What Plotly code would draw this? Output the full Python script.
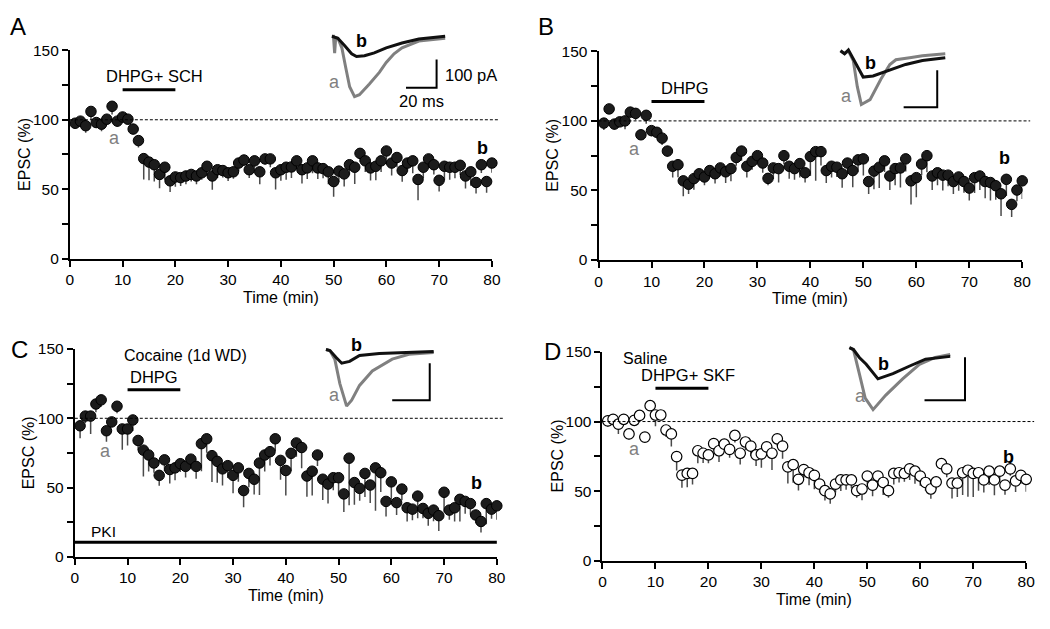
import plotly.graph_objects as go

W, H = 1050, 629

# ---------------- data ----------------
minutes = list(range(1, 81))

epsc_A = [97.5, 99, 95.7, 106, 98, 96.8, 100.4, 109.7, 99, 102, 100.4, 93.3, 85, 72, 69.5, 67.6, 60.6, 65.8, 56, 58.8,
          58.3, 59.5, 60.6, 59.5, 61.8, 66.5, 59.5, 64, 63.4, 61.8, 62.5, 68.8, 71, 64, 70.4, 62.5, 71.8, 71.8, 61.8, 64,
          65.8, 66, 70.4, 64, 65.3, 70.4, 65.3, 64.8, 62.5, 55.5, 63, 61, 67.6, 65.8, 75.8, 70.4, 65.3, 66.5, 70.4, 77.5,
          68.8, 72.8, 63.4, 68.8, 70.4, 57, 65.8, 71.8, 67.6, 56.4, 66.5, 65.8, 65.8, 67.2, 59.5, 62.5, 54.8, 67.6, 55.5, 68.8]
sem_A = [4, 3, 5, 6, 4, 5, 3, 6, 4, 3, 3, 4, 5, 15, 13, 12, 10, 9, 8, 7,
         6, 6, 5, 6, 5, 7, 10, 6, 5, 6, 5, 6, 4, 6, 5, 9, 4, 6, 12, 8,
         9, 8, 6, 10, 8, 9, 8, 7, 9, 11, 8, 9, 7, 12, 6, 8, 9, 10, 8, 6,
         9, 7, 8, 6, 9, 15, 8, 6, 7, 8, 10, 9, 8, 7, 9, 10, 8, 6, 8, 7]

epsc_B = [98.4, 108.6, 97.7, 99.3, 100, 106.3, 105.4, 90, 104, 93, 91.8, 87.6, 78.3, 67.4, 68.5, 56.9, 54.5, 58.5, 62, 59.7,
          64.3, 62, 66.2, 63.4, 65.7, 73.7, 78.3, 67.4, 70.9, 75, 69.7, 58.7, 66.2, 65.7, 75, 67.4, 65.7, 69.3, 62.7, 74.4,
          77.9, 77.9, 64.3, 67.4, 66.7, 62, 69.7, 64.3, 72, 72.7, 56.4, 63.9, 66.7, 71.3, 60.4, 65.7, 66.2, 72.7, 56.9, 59.2,
          69, 75, 60.4, 62.7, 61, 61, 56.4, 59.7, 56.4, 51.7, 59.2, 60.4, 56.4, 55.7, 53.4, 47.6, 58, 40, 50.3, 56.9]
sem_B = [5, 3, 4, 3, 6, 4, 5, 3, 6, 4, 3, 5, 4, 8, 9, 11, 7, 8, 5, 6,
         5, 7, 6, 8, 9, 6, 7, 8, 6, 5, 7, 5, 8, 10, 6, 9, 8, 10, 7, 14,
         21, 10, 9, 8, 7, 10, 8, 12, 9, 12, 9, 13, 15, 8, 10, 12, 14, 9, 17, 14,
         8, 12, 10, 9, 11, 8, 9, 10, 8, 9, 11, 10, 12, 13, 10, 16, 12, 9, 8, 13]

epsc_C = [94.6, 101.6, 101.6, 110.3, 113.3, 91, 97.4, 108.7, 92.3, 92.3, 98.8, 84, 77, 73.5, 67.7, 58.8, 70, 63, 64.2, 67.2,
          65.3, 70.5, 65.3, 81.7, 85.2, 73, 68.9, 63.5, 65.8, 58.8, 64.2, 47.8, 60.2, 56, 67.7, 73.5, 75.9, 85.2, 69.6, 62.3,
          74.7, 82.2, 78.9, 58.3, 61.8, 73.5, 56, 52.5, 57.1, 57.1, 45.4, 71.2, 53.6, 49.4, 60.2, 51.8, 64.2, 60.7, 40, 54.1,
          39.1, 48.9, 35.4, 34.4, 43.8, 34.9, 31.4, 33.7, 29.7, 46.6, 33.7, 35.4, 41.5, 40, 38.4, 30.2, 25.5, 38.4, 34.4, 36.8]
sem_C = [9, 5, 13, 6, 5, 8, 4, 5, 15, 12, 8, 7, 19, 12, 7, 7.5, 8, 10, 9, 6,
         8, 7, 9, 20, 10, 19, 15.5, 12, 9, 13, 10, 12, 10, 11, 23, 12, 10, 9, 14, 18,
         13, 10, 15, 15, 17.5, 8, 15, 14, 9, 12, 13, 34, 16, 9, 17, 13, 31, 14, 11, 13,
         9, 8, 10, 8, 16, 7, 9, 8, 11, 14, 7, 10, 16, 9, 8, 6, 8, 15, 7, 10]

epsc_D = [100.5, 101.6, 98.1, 101.6, 91.1, 100.9, 104.4, 88.8, 111.4, 104.7, 104.7, 93.9, 91.1, 74.8, 61.5, 62.7, 62.7, 79, 77.2, 76,
          84.1, 79, 83.7, 80, 90, 77.2, 85.3, 82.3, 76, 76.7, 81.8, 77.2, 87.6, 82.3, 67.4, 69, 58.5, 65.5, 63.2, 61.3,
          55, 50.3, 48, 55, 58, 58, 58, 50.3, 51.5, 60.8, 54.3, 60.8, 56.2, 50.3, 62.7, 63.2, 62.7, 66, 64.3, 60.8,
          56.2, 51.5, 56.6, 69.7, 66, 55.7, 55.7, 63.2, 65, 62.7, 63.2, 58, 64.3, 58, 64.3, 54.3, 66, 57.3, 61.3, 58.5]
sem_D = [4, 3, 7, 3, 4, 3, 4, 3, 3, 8, 4, 5, 9, 10, 9, 10, 8, 9, 7, 6,
         5, 8, 5, 6, 5, 8, 6, 7, 8, 10, 6, 12, 5, 9, 12, 13, 8, 6, 9, 10,
         6, 7, 7, 6, 8, 7, 6, 5, 8, 6, 8, 7, 9, 5, 8, 7, 6, 8, 9, 7,
         6, 7, 5, 4, 6, 11, 10, 16, 19, 17, 13, 9, 10, 11, 8, 7, 5, 8, 6, 9]

# inset EPSC traces (time in ms, current in pA)
trA_a_t = [0, 1.0, 1.8, 2.5, 3.9, 6.5, 9, 11.6, 14.8, 18, 24.5, 31, 35.5, 40.6, 45.8, 56.8, 74]
trA_a_i = [0, 0, -60, -5, -7, -41, -110, -179, -214, -207, -169, -128, -93, -62, -41, -17, -7]
trA_b_t = [0, 3.9, 8.4, 12.9, 16.1, 21.3, 27.7, 35.5, 45.8, 56.8, 74]
trA_b_i = [0, -7, -34, -62, -72, -69, -59, -41, -24, -10, 0]

trB_a_t = [0, 2.4, 4.7, 7.6, 10, 12.4, 17.6, 24.1, 29.4, 33, 41.2, 48.8, 62.4]
trB_a_i = [0, -7.9, 0, -26, -97, -145, -132, -76, -37, -24, -18.4, -13, -8]
trB_b_t = [0, 2.4, 4.7, 8.8, 13.5, 19.4, 29.4, 38.8, 48.8, 62.4]
trB_b_i = [0, -7.9, 2.6, -31.6, -71, -68, -52.6, -36.8, -26.3, -18.4]

trC_a_t = [0, 2.1, 4.7, 7.4, 11, 13.7, 17.9, 24.7, 35.3, 44.2, 57.4]
trC_a_i = [0, -2.6, -26, -92, -153, -137, -97, -58, -26, -13, -8]
trC_b_t = [0, 2.1, 5.3, 8.4, 12.6, 17.9, 28.4, 44.2, 57.4]
trC_b_i = [0, -2.6, -21, -37, -32, -16, -10.5, -8, -5]

trD_a_t = [0, 2, 4.9, 7.8, 11.7, 18, 26.3, 34.6, 42.4, 49.8]
trD_a_i = [0, -4.5, -61, -118, -145, -111, -73, -39, -23, -16]
trD_b_t = [0, 2, 4.9, 8.3, 14.1, 21.5, 29.8, 37.6, 49.8]
trD_b_i = [0, -4.5, -23, -39, -73, -61, -43, -27, -20.5]

# ---------------- geometry (pixels) ----------------
PANELS = {
    'A': dict(x0=66.7, x1=494.0, y0=256.5, y1=42.5),
    'B': dict(x0=602.0, x1=1031.0, y0=258.0, y1=43.5),
    'C': dict(x0=71.7, x1=499.0, y0=563.0, y1=349.5),
    'D': dict(x0=606.0, x1=1035.0, y0=567.0, y1=352.5),
}
# inset: box (px), origin (px), px per ms, px per pA, scale-bar corner (ms, pA)
INSETS = {
    'A': dict(box=(318, 470, 0, 108), org=(332, 28), pms=1.55, ppa=0.29, bar=(68.4, -182.8)),
    'B': dict(box=(830, 960, 25, 112), org=(847, 43), pms=1.70, ppa=0.38, bar=(57.6, -152.6)),
    'C': dict(box=(310, 445, 335, 415), org=(326, 350), pms=1.90, ppa=0.38, bar=(55.3, -137)),
    'D': dict(box=(845, 985, 335, 418), org=(856, 348), pms=2.05, ppa=0.44, bar=(57.1, -122.7)),
}

FONT = "Liberation Sans, Arial, Helvetica, sans-serif"


def px2fx(px):
    return px / W


def px2fy(py):
    return 1 - py / H


fig = go.Figure()
layout = dict(width=W, height=H, margin=dict(l=0, r=0, t=0, b=0), showlegend=False,
              paper_bgcolor='white', plot_bgcolor='white',
              font=dict(family=FONT, size=16, color='black'))
annotations = []
shapes = []

series = {
    'A': (epsc_A, sem_A, True),
    'B': (epsc_B, sem_B, True),
    'C': (epsc_C, sem_C, True),
    'D': (epsc_D, sem_D, False),
}
traces_inset = {
    'A': (trA_a_t, trA_a_i, trA_b_t, trA_b_i),
    'B': (trB_a_t, trB_a_i, trB_b_t, trB_b_i),
    'C': (trC_a_t, trC_a_i, trC_b_t, trC_b_i),
    'D': (trD_a_t, trD_a_i, trD_b_t, trD_b_i),
}

for i, key in enumerate('ABCD'):
    n = i + 1
    p = PANELS[key]
    xa = 'x' if n == 1 else f'x{n}'
    ya = 'y' if n == 1 else f'y{n}'
    layout[f'xaxis{n}'] = dict(domain=[px2fx(p['x0']), px2fx(p['x1'])], range=[0, 80], dtick=10, tick0=0,
                               showline=True, linewidth=2, linecolor='black', ticks='outside', ticklen=6,
                               tickwidth=2, tickcolor='black', showgrid=False, zeroline=False,
                               tickfont=dict(size=15.5), anchor=ya)
    layout[f'yaxis{n}'] = dict(domain=[px2fy(p['y0']), px2fy(p['y1'])], range=[0, 150], dtick=50, tick0=0,
                               showline=True, linewidth=2, linecolor='black', ticks='outside', ticklen=6,
                               tickwidth=2, tickcolor='black', showgrid=False, zeroline=False,
                               tickfont=dict(size=15.5), anchor=xa,
                               minor=dict(dtick=25, ticks='outside', ticklen=6, tickwidth=2, tickcolor='black',
                                          showgrid=False))
    vals, sem, filled = series[key]
    if filled:
        marker = dict(symbol='circle', size=10.5, color='#1c1c1c', line=dict(color='black', width=1))
    else:
        marker = dict(symbol='circle', size=10.5, color='white', line=dict(color='black', width=1.2))
    fig.add_trace(go.Scatter(x=minutes, y=vals, mode='markers', marker=marker, cliponaxis=False,
                             error_y=dict(type='data', symmetric=False, array=[0] * len(sem), arrayminus=sem,
                                          color='#4a4a4a', thickness=1.5, width=0),
                             xaxis=xa, yaxis=ya, hoverinfo='skip'))
    # baseline dashed line at 100 %
    shapes.append(dict(type='line', xref=f'{xa} domain', yref=ya, x0=0, x1=81.5 / 80, y0=100, y1=100,
                       line=dict(color='black', width=1, dash='3px,2px')))
    # axis titles
    annotations.append(dict(text='EPSC (%)', xref='paper', yref='paper', x=px2fx(p['x0'] - 46),
                            y=px2fy((p['y0'] + p['y1']) / 2), textangle=-90, showarrow=False,
                            font=dict(size=16), xanchor='center', yanchor='middle'))
    annotations.append(dict(text='Time (min)', xref='paper', yref='paper', x=px2fx((p['x0'] + p['x1']) / 2),
                            y=px2fy(p['y0'] + 40), showarrow=False, font=dict(size=16),
                            xanchor='center', yanchor='middle'))

    # inset
    ins = INSETS[key]
    m = n + 4
    bx0, bx1, by0, by1 = ins['box']
    ox, oy = ins['org']
    pms, ppa = ins['pms'], ins['ppa']
    ixa, iya = f'x{m}', f'y{m}'
    layout[f'xaxis{m}'] = dict(domain=[px2fx(bx0), px2fx(bx1)], range=[(bx0 - ox) / pms, (bx1 - ox) / pms],
                               visible=False, anchor=iya)
    layout[f'yaxis{m}'] = dict(domain=[px2fy(by1), px2fy(by0)], range=[-(by1 - oy) / ppa, -(by0 - oy) / ppa],
                               visible=False, anchor=ixa)
    at, ai, bt, bi = traces_inset[key]
    fig.add_trace(go.Scatter(x=at, y=ai, mode='lines', line=dict(color='#808080', width=3),
                             xaxis=ixa, yaxis=iya, hoverinfo='skip'))
    fig.add_trace(go.Scatter(x=bt, y=bi, mode='lines', line=dict(color='#111111', width=3),
                             xaxis=ixa, yaxis=iya, hoverinfo='skip'))
    cx, cy = ins['bar']
    fig.add_trace(go.Scatter(x=[cx - 20, cx, cx], y=[cy, cy, cy + 100], mode='lines',
                             line=dict(color='black', width=2), xaxis=ixa, yaxis=iya, hoverinfo='skip'))

# inset letters
inset_labels = {
    'A': ((1.9, -162), (19.4, -17)),
    'B': ((3.5, -121), (17.6, -31.6)),
    'C': ((4.7, -124), (16.3, 13)),
    'D': ((5.4, -114), (16.6, -39)),
}
for i, key in enumerate('ABCD'):
    m = i + 5
    (ax_, ay_), (bx_, by_) = inset_labels[key]
    annotations.append(dict(text='a', x=ax_, y=ay_, xref=f'x{m}', yref=f'y{m}', showarrow=False,
                            font=dict(size=18, color='#808080')))
    annotations.append(dict(text='<b>b</b>', x=bx_, y=by_, xref=f'x{m}', yref=f'y{m}', showarrow=False,
                            font=dict(size=18, color='black')))
annotations.append(dict(text='100 pA', x=72.9, y=-138, xref='x5', yref='y5', showarrow=False,
                        xanchor='left', font=dict(size=16.5)))
annotations.append(dict(text='20 ms', x=58.4, y=-231, xref='x5', yref='y5', showarrow=False,
                        xanchor='center', font=dict(size=16.5)))

# data-axis texts: a/b labels on time course
tc_labels = {
    'A': ((8.5, 87), (78.3, 79.6)),
    'B': ((6.7, 80), (76.7, 73.4)),
    'C': ((5.9, 76.6), (76.1, 53.4)),
    'D': ((6.0, 80.4), (76.7, 74.8)),
}
for i, key in enumerate('ABCD'):
    n = i + 1
    xa = 'x' if n == 1 else f'x{n}'
    ya = 'y' if n == 1 else f'y{n}'
    (ax_, ay_), (bx_, by_) = tc_labels[key]
    annotations.append(dict(text='a', x=ax_, y=ay_, xref=xa, yref=ya, showarrow=False,
                            font=dict(size=18, color='#808080')))
    annotations.append(dict(text='<b>b</b>', x=bx_, y=by_, xref=xa, yref=ya, showarrow=False,
                            font=dict(size=18, color='black')))

# drug application bars and labels: (start, end, bar level, label, label x, label y)
bars = {
    'A': (10, 20, 121.6, 'DHPG+ SCH', 16.0, 131.5),
    'B': (10, 20, 114, 'DHPG', 16.4, 123.5),
    'C': (10, 20, 120.6, 'DHPG', 15.0, 130),
    'D': (10, 20, 124, 'DHPG+ SKF', 16.2, 133.5),
}
for i, key in enumerate('ABCD'):
    n = i + 1
    xa = 'x' if n == 1 else f'x{n}'
    ya = 'y' if n == 1 else f'y{n}'
    x0, x1, yb, txt, xt, yt = bars[key]
    shapes.append(dict(type='line', xref=xa, yref=ya, x0=x0, x1=x1, y0=yb, y1=yb,
                       line=dict(color='black', width=3)))
    annotations.append(dict(text=txt, x=xt, y=yt, xref=xa, yref=ya, showarrow=False,
                            font=dict(size=16.5)))

# PKI bar in C
shapes.append(dict(type='line', xref='x3', yref='y3', x0=0, x1=80.3, y0=10.5, y1=10.5,
                   line=dict(color='black', width=3)))
annotations.append(dict(text='PKI', x=5.4, y=18.3, xref='x3', yref='y3', showarrow=False, font=dict(size=15.5)))

# condition titles (data coordinates of each panel)
titles = [
    ('x', 'y', 5.9, 169, 'Cocaine (1d WD)'),
    ('x2', 'y2', 8.0, 167, 'Cocaine (1d WD)'),
    ('x2', 'y2', 8.5, 151.5, 'SCH (s.c.).'),
    ('x3', 'y3', 9.0, 145.5, 'Cocaine (1d WD)'),
    ('x4', 'y4', 3.5, 145.5, 'Saline'),
]
for xa, ya, xx, yy, txt in titles:
    annotations.append(dict(text=txt, x=xx, y=yy, xref=xa, yref=ya, showarrow=False, xanchor='left',
                            font=dict(size=16)))

# panel letters
letters = [('A', 14, 18), ('B', 549, 18), ('C', 16, 350), ('D', 555, 352)]
for txt, lx, ly in letters:
    annotations.append(dict(text=txt, x=px2fx(lx), y=px2fy(ly), xref='paper', yref='paper', showarrow=False,
                            font=dict(size=24), xanchor='center', yanchor='middle'))

layout['annotations'] = annotations
layout['shapes'] = shapes
fig.update_layout(**layout)
fig.write_html("out.html", config={'displayModeBar': False},
               post_script="document.body.style.margin='0px';document.body.style.overflow='hidden';")
